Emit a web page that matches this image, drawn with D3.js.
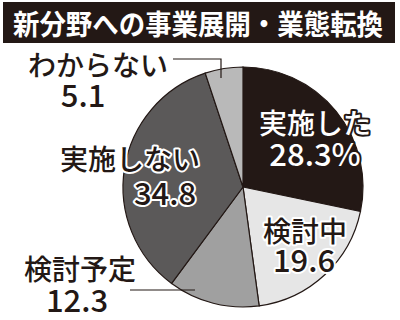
<!DOCTYPE html>
<html>
<head>
<meta charset="utf-8">
<script src="https://cdn.jsdelivr.net/npm/d3@7"></script>
<style>
body{margin:0;background:#fff;}
svg{display:block;}
text{font-family:"Noto Sans CJK JP","Noto Sans",sans-serif;}
</style>
</head>
<body>
<svg width="400" height="320"></svg>
<script>
var title = "新分野への事業展開・業態転換";
var categories = ["実施した","検討中","検討予定","実施しない","わからない"];
var values = [28.3,19.6,12.3,34.8,5.1];
var valueLabels = ["28.3%","19.6","12.3","34.8","5.1"];

var ink = "#231815";
var fills = ["#231815","#e6e6e6","#a0a0a0","#5b5959","#b9b9b9"];
// ラベル位置（円の中心からのずれ）
var labelOff = [[72,-53,72,-21],[62,55,61,85],[-163,93,-166,125],[-113,-17,-78,18],[-145,-111,-160,-80]];
var labelFill = ["#fff",ink,ink,ink,ink];
var labelHalo = [ink,"#fff","#fff","#fff","none"];
// 引き出し線
var leaders = [null,null,[[-113,103],[-48,103]],null,[[-70,-128],[-22,-128],[-22,-109]]];

var cx = 243, cy = 187, r = 120;
var svg = d3.select("svg");

svg.append("rect").attr("x",3).attr("y",2).attr("width",392).attr("height",41).attr("fill",ink);
svg.append("text").attr("x",13).attr("y",35)
   .attr("font-size",28).attr("font-weight",700)
   .attr("textLength",370).attr("lengthAdjust","spacingAndGlyphs")
   .attr("fill","#fff").text(title);

var pie = d3.pie().sort(null).value(function(d){return d;});
var arc = d3.arc().innerRadius(0).outerRadius(r);
var g = svg.append("g").attr("transform","translate("+cx+","+cy+")");

g.selectAll("path.slice").data(pie(values)).enter()
 .append("path").attr("class","slice")
 .attr("d",arc)
 .attr("fill",function(d,i){return fills[i];})
 .attr("stroke",ink).attr("stroke-width",1.2);

leaders.forEach(function(pts){
  if(!pts) return;
  g.append("path").attr("d",d3.line()(pts)).attr("fill","none").attr("stroke",ink).attr("stroke-width",1.2);
});

categories.forEach(function(c,i){
  var o = labelOff[i];
  var t1 = g.append("text").attr("x",o[0]).attr("y",o[1]).attr("text-anchor","middle")
    .attr("font-size",28).attr("font-weight",500).text(c);
  var t2 = g.append("text").attr("x",o[2]).attr("y",o[3]).attr("text-anchor","middle")
    .attr("font-size",31).attr("font-weight",500).text(valueLabels[i]);
  [t1,t2].forEach(function(t){
    t.attr("fill",labelFill[i]);
    if(labelHalo[i]!="none"){
      t.attr("stroke",labelHalo[i]).attr("stroke-width",4).attr("stroke-linejoin","round").attr("paint-order","stroke");
    }
  });
});
</script>
</body>
</html>
